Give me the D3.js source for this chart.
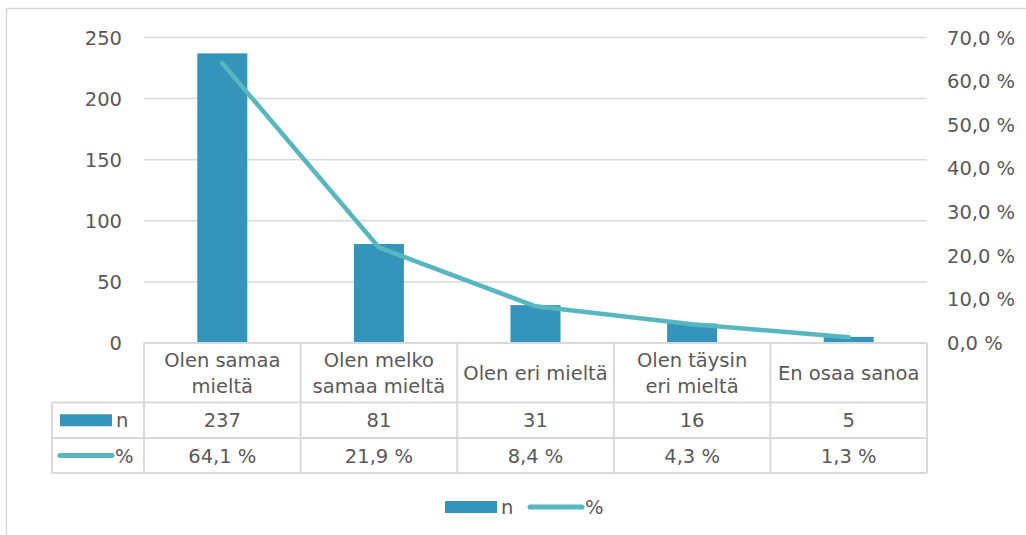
<!DOCTYPE html>
<html>
<head>
<meta charset="utf-8">
<script src="https://cdn.jsdelivr.net/npm/d3@7"></script>
<style>
  html, body { margin: 0; padding: 0; background: #fff; }
  svg { display: block; }
  text { font-family: "DejaVu Sans", sans-serif; fill: #595959; }
</style>
</head>
<body>
<svg id="chart" width="1026" height="535"></svg>
<script>
// Vastausjakauma: lukumäärät ja prosenttiosuudet
const categories = [
  ["Olen samaa", "mieltä"],
  ["Olen melko", "samaa mieltä"],
  ["Olen eri mieltä"],
  ["Olen täysin", "eri mieltä"],
  ["En osaa sanoa"]
];
const nValues = [237, 81, 31, 16, 5];
const pctValues = [64.1, 21.9, 8.4, 4.3, 1.3];
const leftTicks = [0, 50, 100, 150, 200, 250];
const rightTicks = [0, 10, 20, 30, 40, 50, 60, 70];
const seriesNames = ["n", "%"];

const barColor = "#3494BA";
const lineColor = "#58B6C0";
const gridColor = "#d9d9d9";
const fontSize = 19.5;

const svg = d3.select("#chart");
const plotLeft = 144, plotRight = 927, plotTop = 37.5, plotBottom = 343;

// outer frame
svg.append("rect")
  .attr("x", 6.5).attr("y", 8.5)
  .attr("width", 1040).attr("height", 560)
  .attr("fill", "none").attr("stroke", gridColor).attr("stroke-width", 1.5);

const idx = categories.map((d, i) => i);
const x = d3.scaleBand().domain(idx).range([plotLeft, plotRight]).paddingInner(0).paddingOuter(0);
const yL = d3.scaleLinear().domain([0, 250]).range([plotBottom, plotTop]);
const yR = d3.scaleLinear().domain([0, 70]).range([plotBottom, plotTop]);

// gridlines
svg.append("g").selectAll("line").data(leftTicks.filter(t => t > 0)).join("line")
  .attr("x1", plotLeft).attr("x2", plotRight)
  .attr("y1", d => yL(d)).attr("y2", d => yL(d))
  .attr("stroke", gridColor).attr("stroke-width", 1.5);

// left axis labels
const fmtPct = d => d.toFixed(1).replace(".", ",") + " %";
svg.append("g").selectAll("text").data(leftTicks).join("text")
  .attr("x", 122).attr("y", d => yL(d))
  .attr("dy", "0.36em").attr("text-anchor", "end")
  .style("font-size", fontSize + "px")
  .text(d => d);

// right axis labels
svg.append("g").selectAll("text").data(rightTicks).join("text")
  .attr("x", 947).attr("y", d => yR(d))
  .attr("dy", "0.36em").attr("text-anchor", "start")
  .style("font-size", fontSize + "px")
  .text(fmtPct);

// bars
const barW = 50;
svg.append("g").selectAll("rect").data(nValues).join("rect")
  .attr("x", (d, i) => x(i) + x.bandwidth() / 2 - barW / 2)
  .attr("width", barW)
  .attr("y", d => yL(d))
  .attr("height", d => yL(0) - yL(d))
  .attr("fill", barColor);

// percentage line
const line = d3.line()
  .x((d, i) => x(i) + x.bandwidth() / 2)
  .y(d => yR(d));
svg.append("path").datum(pctValues)
  .attr("d", line)
  .attr("fill", "none").attr("stroke", lineColor)
  .attr("stroke-width", 4.5).attr("stroke-linecap", "round").attr("stroke-linejoin", "round");

// data table
const tableLeft = 52;
const rowY = [343, 402.5, 438, 473];
const tg = svg.append("g");
const bw = x.bandwidth();
// horizontal borders
tg.append("line").attr("x1", plotLeft).attr("x2", plotRight).attr("y1", rowY[0]).attr("y2", rowY[0]);
[rowY[1], rowY[2], rowY[3]].forEach(yy =>
  tg.append("line").attr("x1", tableLeft).attr("x2", plotRight).attr("y1", yy).attr("y2", yy));
// vertical borders
idx.concat([idx.length]).forEach(i => {
  const xx = plotLeft + i * bw;
  tg.append("line").attr("x1", xx).attr("x2", xx).attr("y1", rowY[0]).attr("y2", rowY[3]);
});
tg.append("line").attr("x1", tableLeft).attr("x2", tableLeft).attr("y1", rowY[1]).attr("y2", rowY[3]);
tg.selectAll("line").attr("stroke", gridColor).attr("stroke-width", 2);

// category header cells
const headerMid = (rowY[0] + rowY[1]) / 2 + 0.5;
const lineGap = 25.7;
categories.forEach((lines, i) => {
  const cx = x(i) + bw / 2;
  const t = svg.append("text").attr("text-anchor", "middle").style("font-size", fontSize + "px");
  lines.forEach((s, j) => {
    const yy = headerMid + (j - (lines.length - 1) / 2) * lineGap;
    t.append("tspan").attr("x", cx).attr("y", yy).attr("dy", "0.36em").text(s);
  });
});

// value rows
const nMid = (rowY[1] + rowY[2]) / 2;
const pMid = (rowY[2] + rowY[3]) / 2;
svg.append("g").selectAll("text").data(nValues).join("text")
  .attr("x", (d, i) => x(i) + bw / 2).attr("y", nMid).attr("dy", "0.36em")
  .attr("text-anchor", "middle").style("font-size", fontSize + "px")
  .text(d => d);
svg.append("g").selectAll("text").data(pctValues).join("text")
  .attr("x", (d, i) => x(i) + bw / 2).attr("y", pMid).attr("dy", "0.36em")
  .attr("text-anchor", "middle").style("font-size", fontSize + "px")
  .text(fmtPct);

// legend keys inside the table
svg.append("rect").attr("x", 60).attr("y", nMid - 6).attr("width", 52).attr("height", 12).attr("fill", barColor);
svg.append("text").attr("x", 116).attr("y", nMid).attr("dy", "0.36em").style("font-size", fontSize + "px").text(seriesNames[0]);
svg.append("line").attr("x1", 60).attr("x2", 112).attr("y1", pMid).attr("y2", pMid)
  .attr("stroke", lineColor).attr("stroke-width", 5).attr("stroke-linecap", "round");
svg.append("text").attr("x", 115).attr("y", pMid).attr("dy", "0.36em").style("font-size", fontSize + "px").text(seriesNames[1]);

// bottom legend
const legY = 507;
svg.append("rect").attr("x", 445).attr("y", legY - 6).attr("width", 52).attr("height", 12).attr("fill", barColor);
svg.append("text").attr("x", 501).attr("y", legY).attr("dy", "0.36em").style("font-size", fontSize + "px").text(seriesNames[0]);
svg.append("line").attr("x1", 530).attr("x2", 582).attr("y1", legY).attr("y2", legY)
  .attr("stroke", lineColor).attr("stroke-width", 5).attr("stroke-linecap", "round");
svg.append("text").attr("x", 585).attr("y", legY).attr("dy", "0.36em").style("font-size", fontSize + "px").text(seriesNames[1]);
</script>
</body>
</html>
